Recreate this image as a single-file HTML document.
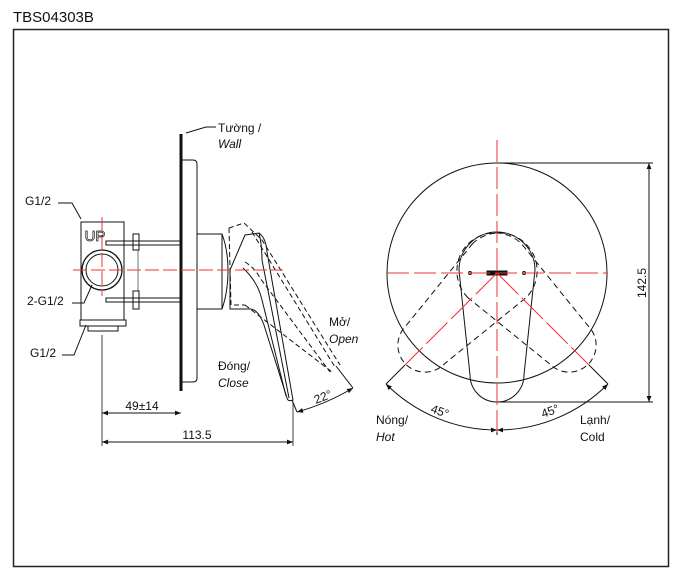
<!DOCTYPE html>
<html><head><meta charset="utf-8"><style>
html,body{margin:0;padding:0;background:#fff}
svg{display:block}
text{font-family:"Liberation Sans",Arial,sans-serif;fill:#111}
</style></head><body>
<svg width="677" height="575" viewBox="0 0 677 575" xmlns="http://www.w3.org/2000/svg">
<defs>
<marker id="ar" viewBox="0 0 10 10" refX="10" refY="5" markerWidth="8" markerHeight="6" orient="auto-start-reverse" markerUnits="userSpaceOnUse"><path d="M0,1 L10,5 L0,9 Z" fill="#111"/></marker>
</defs>
<text x="13" y="22" font-size="15">TBS04303B</text>
<rect x="13.5" y="29.5" width="655" height="537" fill="none" stroke="#222" stroke-width="1.5"/>

<!-- LEFT VIEW -->
<g stroke="#111" fill="none" stroke-width="1">
<line x1="181" y1="134" x2="181" y2="391" stroke-width="3"/>
<path d="M181,160 H193 Q197,160 197,164 V378 Q197,382 193,382 H181"/>
<rect x="81" y="222" width="43" height="98"/>
<rect x="80" y="320" width="46" height="6"/>
<rect x="88" y="326" width="30" height="5"/>
<circle cx="102" cy="270" r="20" stroke-width="1.3"/>
<circle cx="102" cy="270" r="16"/>
<rect x="106" y="241" width="75" height="4"/>
<rect x="106" y="298" width="75" height="4"/>
<rect x="133" y="234" width="6" height="16"/>
<rect x="133" y="291" width="6" height="18"/>
<line x1="138" y1="250" x2="138" y2="291" stroke-width="0.6"/>
<path d="M197,234 H222 Q228,250 228,270 Q228,292 222,309 H197"/>
<line x1="222" y1="234" x2="222" y2="309"/>
<path d="M230,309 L230,270 L245,235 L259,233 Q266,238 267,252 L293,400 Q288,402 287,398 L264,325 Q258,309 250,309 Z"/>
<path d="M259,233 Q262,245 262,260 L289,398"/>
<path d="M243,268 Q258,282 262,300 L286,396"/>
<g stroke-dasharray="5,3">
<path d="M229,228 L244,223 L262,240 L340,365"/>
<path d="M229,228 L231,305 L245,305"/>
<path d="M245,305 L332,372"/>
<path d="M252,232 L335,367"/>
<path d="M245,262 Q255,268 260,278 L330,372"/>
</g>
<path d="M58,203 H72 L81,219" />
<path d="M72,303 H84 L92,285"/>
<path d="M62,355 H74 L86,325"/>
<path d="M216,127 H206 L186,133"/>
<line x1="102" y1="335" x2="102" y2="446" stroke-width="0.8"/>
<line x1="293" y1="402" x2="293" y2="446" stroke-width="0.8"/>
<line x1="102" y1="413" x2="181" y2="413" marker-start="url(#ar)" marker-end="url(#ar)"/>
<line x1="102" y1="442" x2="293" y2="442" marker-start="url(#ar)" marker-end="url(#ar)"/>
<line x1="292" y1="400" x2="297" y2="412"/>
<line x1="336" y1="366" x2="353" y2="388"/>
<path d="M297,412 Q326,404 353,388" marker-start="url(#ar)" marker-end="url(#ar)"/>
</g>
<g stroke="#e33" stroke-width="1" fill="none">
<line x1="73" y1="270" x2="283" y2="270" stroke-dasharray="14,4"/>
<line x1="102" y1="217" x2="102" y2="296" stroke-dasharray="14,4"/>
</g>
<text x="95" y="241" font-size="15" text-anchor="middle" fill="none" stroke="#111" stroke-width="0.7" style="fill:none">UP</text>
<g font-size="12">
<text x="218" y="132">Tường /</text>
<text x="218" y="148" font-style="italic">Wall</text>
<text x="25" y="205">G1/2</text>
<text x="27" y="305">2-G1/2</text>
<text x="30" y="357">G1/2</text>
<text x="329" y="326">Mở/</text>
<text x="329" y="343" font-style="italic">Open</text>
<text x="218" y="370">Đóng/</text>
<text x="218" y="387" font-style="italic">Close</text>
<text x="142" y="410" text-anchor="middle">49±14</text>
<text x="197" y="439" text-anchor="middle">113.5</text>
<text x="316" y="404" transform="rotate(-22 316 404)">22°</text>
</g>

<!-- RIGHT VIEW -->
<g stroke="#111" fill="none" stroke-width="1">
<circle cx="497" cy="273" r="110"/>
<g stroke-dasharray="6,4">
<path d="M459,270 A38,38 0 0 1 535,270 L524,375 A27,27 0 0 1 470,375 Z" transform="rotate(45 497 273)"/>
<path d="M459,270 A38,38 0 0 1 535,270 L524,375 A27,27 0 0 1 470,375 Z" transform="rotate(-45 497 273)"/>
</g>
<path d="M459,270 A38,38 0 0 1 535,270 L524,375 A27,27 0 0 1 470,375 Z"/>
<circle cx="470" cy="273" r="1.5"/><circle cx="524" cy="273" r="1.5"/>
<rect x="487" y="271" width="20" height="4" fill="#111"/>
<line x1="497" y1="163" x2="653" y2="163"/>
<line x1="497" y1="402" x2="653" y2="402"/>
<line x1="649" y1="163" x2="649" y2="402" marker-start="url(#ar)" marker-end="url(#ar)"/>
<line x1="405" y1="365" x2="386" y2="384"/>
<line x1="589" y1="365" x2="608" y2="384"/>
<path d="M386,384 A157,157 0 0 0 497,430" marker-start="url(#ar)" marker-end="url(#ar)"/>
<path d="M608,384 A157,157 0 0 1 497,430" marker-start="url(#ar)" marker-end="url(#ar)"/>
<line x1="497" y1="420" x2="497" y2="435"/>
</g>
<g stroke="#e33" stroke-width="1" fill="none">
<line x1="387" y1="273" x2="607" y2="273" stroke-dasharray="22,5"/>
<line x1="497" y1="140" x2="497" y2="432" stroke-dasharray="22,5"/>
<line x1="497" y1="273" x2="405" y2="365" stroke-dasharray="30,5"/>
<line x1="497" y1="273" x2="589" y2="365" stroke-dasharray="30,5"/>
</g>
<g font-size="12">
<text x="376" y="424">Nóng/</text>
<text x="376" y="441" font-style="italic">Hot</text>
<text x="580" y="424">Lạnh/</text>
<text x="580" y="441">Cold</text>
<text x="430" y="412" transform="rotate(20 430 412)">45°</text>
<text x="543" y="418" transform="rotate(-20 543 418)">45°</text>
<text x="650" y="283" transform="rotate(-90 650 283)" text-anchor="middle" dy="-4">142.5</text>
</g>
</svg>
</body></html>
